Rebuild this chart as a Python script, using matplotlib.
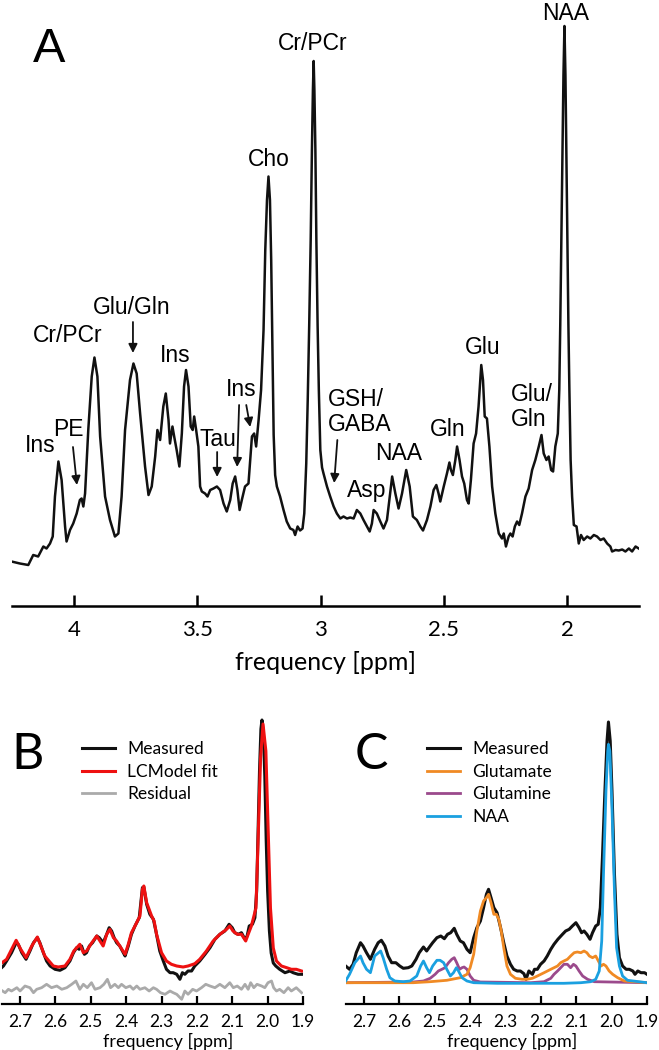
import matplotlib.pyplot as plt

plt.rcParams['font.family'] = ['Lato', 'DejaVu Sans']

# ---- panel A: full spectrum (ppm, intensity a.u.)
a_ppm = [4.252, 4.218, 4.184, 4.164, 4.144, 4.123, 4.110, 4.096, 4.085, 4.076, 4.062, 4.049,
         4.035, 4.029, 4.015, 4.002, 3.988, 3.975, 3.968, 3.961, 3.954, 3.941, 3.927, 3.916,
         3.904, 3.893, 3.873, 3.853, 3.833, 3.819, 3.806, 3.792, 3.772, 3.758, 3.745, 3.731,
         3.711, 3.697, 3.684, 3.670, 3.661, 3.650, 3.637, 3.627, 3.616, 3.610, 3.600, 3.593,
         3.583, 3.572, 3.562, 3.553, 3.545, 3.535, 3.526, 3.518, 3.512, 3.504, 3.495, 3.488,
         3.481, 3.468, 3.458, 3.447, 3.434, 3.420, 3.407, 3.393, 3.380, 3.366, 3.356, 3.346,
         3.337, 3.328, 3.319, 3.306, 3.292, 3.278, 3.269, 3.261, 3.251, 3.241, 3.231, 3.224,
         3.217, 3.211, 3.205, 3.200, 3.195, 3.190, 3.184, 3.177, 3.164, 3.150, 3.137, 3.123,
         3.110, 3.103, 3.093, 3.083, 3.073, 3.066, 3.058, 3.052, 3.046, 3.040, 3.035, 3.031,
         3.028, 3.025, 3.021, 3.017, 3.012, 3.007, 3.001, 2.994, 2.988, 2.974, 2.961, 2.947,
         2.934, 2.920, 2.907, 2.893, 2.880, 2.866, 2.853, 2.839, 2.826, 2.812, 2.801, 2.792,
         2.785, 2.772, 2.758, 2.745, 2.731, 2.718, 2.710, 2.697, 2.684, 2.670, 2.653, 2.639,
         2.626, 2.610, 2.596, 2.585, 2.569, 2.555, 2.542, 2.531, 2.522, 2.515, 2.501, 2.488,
         2.478, 2.472, 2.464, 2.454, 2.447, 2.437, 2.427, 2.418, 2.407, 2.400, 2.391, 2.380,
         2.370, 2.360, 2.353, 2.349, 2.342, 2.335, 2.326, 2.316, 2.305, 2.292, 2.278, 2.265,
         2.258, 2.249, 2.238, 2.231, 2.222, 2.213, 2.204, 2.195, 2.184, 2.170, 2.157, 2.143,
         2.130, 2.116, 2.105, 2.096, 2.085, 2.076, 2.066, 2.058, 2.049, 2.039, 2.033, 2.029,
         2.025, 2.020, 2.016, 2.012, 2.008, 2.004, 2.000, 1.996, 1.992, 1.987, 1.981, 1.974,
         1.963, 1.954, 1.945, 1.934, 1.920, 1.907, 1.893, 1.880, 1.866, 1.853, 1.839, 1.826,
         1.819, 1.805, 1.792, 1.778, 1.765, 1.751, 1.738, 1.724, 1.711]
a_int = [7.7, 7.3, 7.0, 9.0, 8.7, 10.7, 10.3, 11.3, 12.7, 20.7, 27.7, 24.0,
         14.7, 11.7, 14.0, 15.3, 17.3, 20.0, 20.3, 18.7, 21.3, 34.0, 44.7, 48.5,
         44.7, 32.7, 20.7, 16.0, 12.7, 13.3, 20.7, 34.0, 44.0, 47.3, 45.3, 37.3,
         26.7, 21.0, 22.7, 28.7, 34.0, 32.0, 38.7, 41.3, 36.0, 31.3, 34.7, 32.7,
         30.0, 26.7, 33.3, 42.7, 46.0, 42.7, 34.7, 34.0, 36.7, 34.0, 30.7, 22.7,
         21.7, 21.3, 20.7, 22.0, 22.3, 22.7, 22.0, 19.3, 17.7, 20.0, 23.3, 24.7,
         22.0, 18.0, 20.0, 22.7, 23.3, 32.7, 33.3, 30.7, 36.0, 42.0, 54.0, 70.0,
         80.0, 84.7, 80.0, 68.0, 50.0, 33.0, 25.0, 22.7, 20.7, 18.0, 15.7, 14.3,
         14.0, 13.0, 14.7, 13.9, 14.3, 17.3, 27.3, 40.0, 55.0, 72.0, 90.0, 102.0,
         107.8, 102.0, 90.0, 72.0, 55.0, 42.0, 30.0, 26.5, 25.3, 22.7, 20.7, 18.7,
         17.3, 16.3, 16.7, 16.3, 16.5, 16.3, 18.0, 17.3, 16.0, 14.7, 13.7, 15.3,
         18.0, 17.3, 15.7, 14.3, 16.0, 21.3, 24.7, 21.3, 18.3, 21.3, 26.0, 22.7,
         16.7, 16.0, 14.7, 13.9, 16.0, 18.7, 22.0, 23.0, 21.3, 19.7, 22.7, 25.3,
         27.5, 26.0, 25.0, 28.0, 30.7, 28.0, 24.7, 23.3, 20.0, 19.3, 24.0, 31.3,
         33.3, 38.7, 44.0, 47.0, 44.0, 36.7, 36.3, 30.7, 22.7, 17.3, 13.3, 12.3,
         13.3, 10.7, 12.7, 13.3, 12.7, 14.7, 15.7, 15.0, 17.3, 20.7, 22.3, 26.0,
         28.0, 30.7, 33.0, 29.3, 28.0, 28.7, 26.0, 25.7, 30.7, 33.3, 42.0, 55.0,
         70.0, 88.0, 105.0, 114.8, 105.0, 88.0, 70.0, 55.0, 42.0, 28.0, 20.7, 15.0,
         14.7, 11.3, 13.0, 12.0, 12.7, 12.3, 13.0, 12.7, 12.0, 12.3, 11.3, 10.7,
         9.7, 10.0, 9.9, 10.1, 9.7, 10.3, 9.7, 10.7, 10.3]
a_ticks = [4, 3.5, 3, 2.5, 2]
a_ticklabels = ['4', '3.5', '3', '2.5', '2']

# peak labels: text, ppm, intensity
a_labels = [('Ins', 4.137, 31.0), ('PE', 4.023, 34.0), ('Cr/PCr', 4.023, 52.8),
            ('Glu/Gln', 3.764, 58.6), ('Ins', 3.589, 49.0), ('Tau', 3.415, 32.2),
            ('Ins', 3.322, 42.2), ('Cho', 3.208, 88.2), ('Cr/PCr', 3.030, 111.4),
            ('Asp', 2.815, 21.8), ('NAA', 2.685, 29.4), ('Gln', 2.486, 34.0),
            ('Glu', 2.344, 50.4), ('NAA', 2.008, 117.4)]
a_left_labels = [('GSH/\nGABA', 2.969, 37.6), ('Glu/\nGln', 2.231, 38.6)]
# arrows: (from ppm, from int, to ppm, to int)
a_arrows = [(4.003, 30.6, 3.987, 23.0), (3.760, 55.6, 3.760, 49.4),
            (3.419, 29.6, 3.419, 24.6), (3.330, 39.0, 3.338, 26.6),
            (3.301, 39.0, 3.285, 34.6), (2.932, 32.0, 2.945, 23.4)]

# ---- panels B and C: zoomed 1.9-2.75 ppm
bc_ticks = [2.7, 2.6, 2.5, 2.4, 2.3, 2.2, 2.1, 2.0, 1.9]
bc_ticklabels = ['2.7', '2.6', '2.5', '2.4', '2.3', '2.2', '2.1', '2.0', '1.9']

b_meas_ppm = [2.757, 2.747, 2.738, 2.724, 2.711, 2.705, 2.695, 2.683, 2.672, 2.662, 2.651, 2.644,
              2.634, 2.625, 2.615, 2.601, 2.587, 2.573, 2.559, 2.549, 2.540, 2.533, 2.526, 2.518,
              2.512, 2.504, 2.495, 2.483, 2.476, 2.465, 2.455, 2.448, 2.441, 2.434, 2.427, 2.418,
              2.408, 2.403, 2.394, 2.385, 2.375, 2.363, 2.354, 2.350, 2.342, 2.333, 2.323, 2.316,
              2.305, 2.295, 2.286, 2.276, 2.267, 2.257, 2.248, 2.241, 2.234, 2.225, 2.215, 2.206,
              2.192, 2.177, 2.163, 2.149, 2.135, 2.121, 2.109, 2.100, 2.093, 2.083, 2.074, 2.064,
              2.058, 2.052, 2.043, 2.036, 2.031, 2.027, 2.023, 2.019, 2.016, 2.012, 2.008, 2.004,
              2.000, 1.995, 1.990, 1.984, 1.977, 1.966, 1.951, 1.937, 1.928, 1.914, 1.904]
b_meas = [31.7, 35.0, 40.0, 48.3, 58.3, 56.7, 48.3, 41.7, 50.0, 58.3, 63.3, 58.3,
          48.3, 40.0, 35.0, 31.7, 30.7, 33.3, 40.0, 48.3, 53.3, 51.7, 55.0, 46.7,
          48.3, 55.0, 58.3, 65.0, 63.3, 58.3, 66.7, 73.3, 70.0, 63.3, 58.3, 55.0,
          48.3, 45.0, 55.0, 66.7, 75.0, 83.3, 113.3, 114.0, 96.7, 86.7, 81.7, 70.0,
          50.0, 40.0, 31.7, 28.3, 28.3, 26.7, 21.7, 28.3, 26.7, 30.0, 30.0, 35.0,
          40.0, 46.7, 53.3, 61.7, 66.7, 70.0, 76.7, 73.3, 68.3, 66.7, 68.3, 61.7,
          65.0, 75.0, 76.7, 83.3, 110.0, 170.0, 230.0, 272.0, 281.0, 268.0, 225.0, 160.0,
          110.0, 70.0, 48.0, 38.0, 35.0, 31.7, 28.3, 30.0, 28.3, 26.7, 26.7]

b_fit_ppm = [2.757, 2.738, 2.711, 2.698, 2.683, 2.667, 2.651, 2.630, 2.606, 2.592, 2.573, 2.559,
             2.548, 2.531, 2.521, 2.512, 2.497, 2.483, 2.465, 2.455, 2.446, 2.436, 2.427, 2.418,
             2.403, 2.394, 2.385, 2.375, 2.361, 2.354, 2.350, 2.342, 2.328, 2.321, 2.314, 2.300,
             2.286, 2.272, 2.257, 2.239, 2.225, 2.206, 2.192, 2.173, 2.154, 2.135, 2.116, 2.107,
             2.098, 2.086, 2.074, 2.062, 2.055, 2.046, 2.033, 2.027, 2.020, 2.013, 2.005, 1.999,
             1.992, 1.984, 1.975, 1.961, 1.946, 1.933, 1.919, 1.904]
b_fit = [36.7, 41.7, 60.7, 51.7, 43.3, 55.0, 64.0, 45.0, 35.0, 34.0, 35.0, 41.7,
         50.0, 56.7, 48.3, 50.0, 58.3, 65.0, 55.0, 66.7, 71.7, 63.3, 60.0, 55.0,
         46.7, 56.7, 68.3, 75.0, 85.0, 111.7, 115.0, 98.3, 85.0, 80.0, 66.7, 48.3,
         40.0, 36.7, 35.0, 34.0, 35.0, 37.3, 41.7, 50.0, 60.0, 66.7, 71.7, 75.0,
         70.0, 66.7, 66.7, 60.0, 66.7, 75.0, 93.0, 160.0, 243.0, 277.0, 250.0, 177.0,
         93.0, 53.0, 40.0, 35.0, 33.3, 31.7, 31.7, 30.0]

b_res_ppm = [2.757, 2.742, 2.733, 2.724, 2.709, 2.700, 2.686, 2.672, 2.662, 2.653, 2.639, 2.625,
             2.611, 2.596, 2.582, 2.568, 2.554, 2.542, 2.531, 2.521, 2.510, 2.498, 2.488, 2.474,
             2.463, 2.453, 2.444, 2.432, 2.422, 2.413, 2.401, 2.389, 2.380, 2.370, 2.361, 2.347,
             2.335, 2.323, 2.314, 2.303, 2.290, 2.276, 2.267, 2.257, 2.243, 2.234, 2.225, 2.212,
             2.201, 2.187, 2.175, 2.163, 2.149, 2.135, 2.121, 2.107, 2.097, 2.086, 2.074, 2.064,
             2.055, 2.048, 2.039, 2.030, 2.017, 2.008, 1.999, 1.989, 1.983, 1.975, 1.966, 1.954,
             1.942, 1.933, 1.919, 1.904]
b_res = [11.7, 8.3, 11.7, 10.0, 13.3, 10.0, 15.0, 13.3, 8.3, 11.7, 13.3, 16.7,
         13.3, 15.0, 11.7, 13.3, 16.7, 20.0, 11.7, 16.7, 13.3, 18.3, 11.7, 13.3,
         16.7, 21.7, 13.3, 16.7, 13.3, 16.7, 13.3, 15.0, 11.7, 15.0, 11.7, 13.3,
         10.0, 13.3, 11.7, 8.3, 6.7, 10.0, 8.3, 6.7, 1.7, 10.0, 6.7, 11.7,
         10.0, 13.3, 16.7, 15.0, 13.3, 16.7, 13.3, 18.3, 13.3, 15.0, 11.7, 16.7,
         11.7, 18.3, 13.3, 16.7, 15.0, 13.3, 18.3, 20.0, 13.3, 10.0, 11.7, 8.3,
         13.3, 10.0, 13.3, 8.3]

c_meas_ppm = [2.752, 2.741, 2.731, 2.722, 2.710, 2.703, 2.693, 2.682, 2.670, 2.660, 2.651, 2.641,
              2.632, 2.622, 2.610, 2.599, 2.589, 2.575, 2.565, 2.553, 2.544, 2.532, 2.523, 2.515,
              2.506, 2.494, 2.483, 2.473, 2.464, 2.455, 2.445, 2.438, 2.428, 2.419, 2.409, 2.400,
              2.390, 2.381, 2.371, 2.362, 2.354, 2.348, 2.341, 2.333, 2.324, 2.314, 2.305, 2.296,
              2.286, 2.277, 2.267, 2.258, 2.248, 2.242, 2.234, 2.224, 2.218, 2.210, 2.201, 2.191,
              2.182, 2.172, 2.163, 2.152, 2.139, 2.130, 2.120, 2.111, 2.101, 2.092, 2.085, 2.078,
              2.070, 2.061, 2.054, 2.045, 2.038, 2.032, 2.026, 2.019, 2.013, 2.009, 2.004, 1.999,
              1.992, 1.985, 1.978, 1.969, 1.959, 1.950, 1.940, 1.934, 1.926, 1.917, 1.907, 1.900]
c_meas = [35.0, 31.7, 36.7, 48.3, 58.3, 55.0, 48.3, 41.7, 51.7, 58.3, 60.7, 55.0,
          45.0, 38.3, 38.3, 35.0, 32.7, 33.3, 35.0, 41.7, 48.3, 54.0, 50.0, 54.0,
          58.3, 63.3, 65.0, 62.3, 66.7, 68.3, 72.7, 66.7, 60.0, 58.3, 51.7, 48.3,
          63.3, 73.3, 80.0, 93.3, 106.7, 111.7, 103.3, 93.3, 88.3, 73.3, 58.3, 45.0,
          36.7, 31.7, 30.0, 30.0, 27.3, 21.7, 30.0, 26.7, 31.7, 31.7, 36.7, 40.0,
          45.0, 51.7, 56.7, 61.7, 66.7, 70.0, 71.7, 75.0, 78.3, 73.3, 68.3, 70.0,
          66.7, 61.7, 68.3, 75.0, 76.7, 93.3, 143.3, 210.0, 260.0, 279.0, 260.0, 210.0,
          126.7, 66.7, 43.3, 35.0, 31.7, 31.7, 30.0, 26.7, 30.0, 28.3, 28.3, 26.7]

c_glu_ppm = [2.752, 2.561, 2.513, 2.466, 2.428, 2.409, 2.400, 2.390, 2.381, 2.371, 2.362, 2.354,
             2.348, 2.341, 2.333, 2.326, 2.319, 2.312, 2.305, 2.296, 2.286, 2.272, 2.253, 2.239,
             2.224, 2.210, 2.191, 2.172, 2.153, 2.144, 2.135, 2.125, 2.116, 2.106, 2.097, 2.087,
             2.078, 2.070, 2.063, 2.054, 2.045, 2.040, 2.030, 2.023, 2.016, 2.007, 1.997, 1.983,
             1.964, 1.900]
c_glu = [18.3, 18.3, 19.3, 20.7, 23.3, 26.7, 33.3, 46.7, 70.0, 90.0, 100.0, 103.3,
         106.7, 98.3, 86.7, 86.7, 81.7, 70.0, 53.3, 35.0, 26.7, 22.7, 21.7, 21.7,
         22.7, 25.0, 28.3, 31.7, 35.0, 38.3, 40.0, 41.7, 45.0, 48.3, 49.0, 48.3,
         50.0, 48.3, 45.0, 43.3, 45.0, 41.7, 35.0, 36.7, 35.0, 30.0, 26.7, 23.3,
         20.0, 18.3]

c_gln_ppm = [2.752, 2.561, 2.532, 2.513, 2.499, 2.490, 2.480, 2.471, 2.461, 2.452, 2.445, 2.438,
             2.430, 2.423, 2.417, 2.409, 2.400, 2.390, 2.371, 2.229, 2.191, 2.172, 2.163, 2.153,
             2.144, 2.135, 2.125, 2.116, 2.108, 2.101, 2.092, 2.082, 2.068, 2.049, 1.900]
c_gln = [18.3, 19.0, 20.0, 22.7, 26.7, 30.0, 31.7, 33.3, 38.3, 41.7, 43.3, 38.3,
         31.7, 33.3, 34.0, 31.7, 25.0, 20.7, 19.0, 18.3, 19.3, 22.7, 26.7, 30.0,
         33.3, 36.7, 36.7, 33.3, 36.7, 35.0, 30.0, 25.0, 21.7, 19.3, 18.3]

c_naa_ppm = [2.752, 2.741, 2.726, 2.710, 2.703, 2.693, 2.682, 2.670, 2.653, 2.646, 2.636, 2.627,
             2.613, 2.589, 2.570, 2.551, 2.540, 2.532, 2.523, 2.515, 2.506, 2.494, 2.485, 2.475,
             2.466, 2.456, 2.447, 2.439, 2.433, 2.423, 2.409, 2.390, 2.324, 2.229, 2.135, 2.087,
             2.059, 2.045, 2.035, 2.028, 2.023, 2.016, 2.011, 2.009, 2.005, 1.999, 1.992, 1.986,
             1.978, 1.969, 1.955, 1.900]
c_naa = [20.0, 26.7, 38.3, 45.0, 38.3, 31.7, 28.3, 45.0, 50.0, 43.3, 31.7, 23.3,
         20.0, 19.3, 20.0, 25.0, 35.0, 40.0, 33.3, 28.3, 35.0, 40.7, 40.7, 38.3,
         31.7, 25.0, 28.3, 33.3, 30.0, 23.3, 20.0, 18.3, 17.7, 17.7, 17.7, 18.3,
         19.3, 21.7, 30.0, 60.0, 126.7, 210.0, 250.0, 256.7, 250.0, 193.3, 110.0, 53.3,
         35.0, 25.0, 20.7, 18.3]

W, H = 659, 1050
fig = plt.figure(figsize=(W / 100, H / 100), dpi=100)

# ---------------- panel A
axA = fig.add_axes([12 / W, 444 / H, 627 / W, 606 / H])
axA.plot(a_ppm, a_int, color='#111111', lw=1.8, solid_joinstyle='round')
axA.set_xlim(4.25, 1.71)
axA.set_ylim(-1.2, 120)
for s in ['left', 'right', 'top']:
    axA.spines[s].set_visible(False)
axA.spines['bottom'].set_linewidth(1.8)
axA.set_yticks([])
axA.set_xticks(a_ticks)
axA.set_xticklabels(a_ticklabels)
axA.tick_params(axis='x', direction='in', length=8, width=1.8, pad=10, labelsize=16)
axA.set_xlabel('frequency [ppm]', fontsize=18, labelpad=8)

lab_font = dict(family=['Liberation Sans', 'DejaVu Sans'], fontsize=16.5)
for txt, px, py in a_labels:
    axA.text(px, py, txt, ha='center', va='center', **lab_font)
for txt, px, py in a_left_labels:
    axA.text(px, py, txt, ha='left', va='center', ma='left', linespacing=1.1, **lab_font)
for x0, y0, x1, y1 in a_arrows:
    axA.annotate('', xy=(x1, y1), xytext=(x0, y0),
                 arrowprops=dict(arrowstyle='-|>', color='#111111', lw=1.3,
                                 mutation_scale=13, shrinkA=0, shrinkB=0))
fig.text(49 / W, 1 - 50 / H, 'A', ha='center', va='center', fontsize=35,
         family=['Liberation Sans', 'DejaVu Sans'])


def zoom_axes(left_px, width_px):
    ax = fig.add_axes([left_px / W, 46 / H, width_px / W, 303 / H])
    ax.set_xlim(2.751, 1.9)
    ax.set_ylim(-3, 300)
    for s in ['left', 'right', 'top']:
        ax.spines[s].set_visible(False)
    ax.spines['bottom'].set_linewidth(1.6)
    ax.set_yticks([])
    ax.set_xticks(bc_ticks)
    ax.set_xticklabels(bc_ticklabels)
    ax.tick_params(axis='x', direction='in', length=6, width=1.6, pad=7, labelsize=12.5)
    ax.set_xlabel('frequency [ppm]', fontsize=13)
    ax.xaxis.set_label_coords(0.5515, -0.097)
    return ax


leg_opts = dict(loc='upper left', bbox_transform=fig.transFigure, frameon=False,
                borderpad=0, borderaxespad=0, handlelength=1.9, handletextpad=0.7,
                labelspacing=0.38, fontsize=12.5)

# ---------------- panel B
axB = zoom_axes(2, 301)
axB.plot(b_meas_ppm, b_meas, color='#111111', lw=2.2, label='Measured')
axB.plot(b_fit_ppm, b_fit, color='#ee1111', lw=2.2, label='LCModel fit')
axB.plot(b_res_ppm, b_res, color='#aaaaaa', lw=2.0, label='Residual')
axB.legend(bbox_to_anchor=(82 / W, 1 - 741 / H), **leg_opts)
fig.text(28 / W, 1 - 755 / H, 'B', ha='center', va='center', fontsize=36)

# ---------------- panel C
axC = zoom_axes(346, 301)
axC.plot(c_meas_ppm, c_meas, color='#111111', lw=2.2, label='Measured')
l_glu, = axC.plot(c_glu_ppm, c_glu, color='#f08a24', lw=2.0, label='Glutamate')
l_gln, = axC.plot(c_gln_ppm, c_gln, color='#9b4a8c', lw=2.0, label='Glutamine')
l_naa, = axC.plot(c_naa_ppm, c_naa, color='#1aa0e0', lw=2.0, label='NAA')
l_gln.set_zorder(2.1)
l_glu.set_zorder(2.2)
l_naa.set_zorder(2.3)
axC.legend(bbox_to_anchor=(427 / W, 1 - 741 / H), **leg_opts)
fig.text(371 / W, 1 - 755 / H, 'C', ha='center', va='center', fontsize=36)

fig.savefig('out.png', dpi=100)
